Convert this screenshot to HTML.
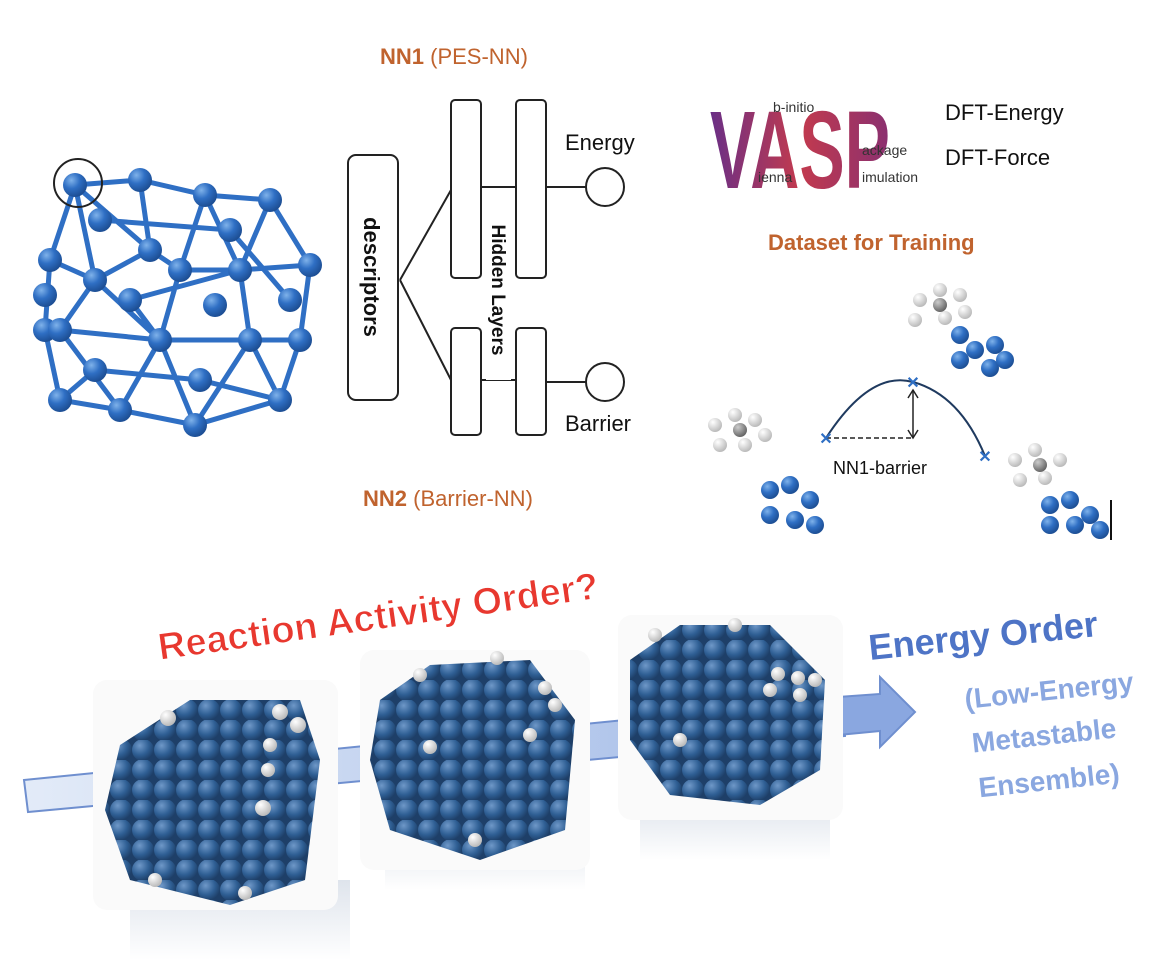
<!DOCTYPE html>
<html><head><meta charset="utf-8"><style>
html,body{margin:0;padding:0;background:#fff}
svg{display:block}
text{font-family:"Liberation Sans",sans-serif}
</style></head><body>
<svg width="1154" height="978" viewBox="0 0 1154 978" xmlns="http://www.w3.org/2000/svg">
<defs>
<radialGradient id="bs" cx="35%" cy="30%" r="70%"><stop offset="0" stop-color="#7fb2ea"/><stop offset="0.5" stop-color="#2f6fc4"/><stop offset="1" stop-color="#1d4f95"/></radialGradient>
<radialGradient id="np" cx="35%" cy="30%" r="70%"><stop offset="0" stop-color="#6f98c8"/><stop offset="0.6" stop-color="#2f5f94"/><stop offset="1" stop-color="#1e3f68"/></radialGradient>
<radialGradient id="wh" cx="35%" cy="30%" r="70%"><stop offset="0" stop-color="#fff"/><stop offset="1" stop-color="#bbb"/></radialGradient>
<radialGradient id="gr" cx="35%" cy="30%" r="70%"><stop offset="0" stop-color="#ccc"/><stop offset="1" stop-color="#666"/></radialGradient>
<pattern id="pat" width="22" height="20" patternUnits="userSpaceOnUse"><rect width="22" height="20" fill="#1e3f68"/><circle cx="11" cy="10" r="11" fill="url(#np)"/></pattern>
<linearGradient id="band" x1="0" y1="0" x2="1" y2="0"><stop offset="0" stop-color="#e3ebf8"/><stop offset="1" stop-color="#9fb8e6"/></linearGradient>
<linearGradient id="vasp" x1="0" y1="0" x2="1" y2="0"><stop offset="0" stop-color="#6a2f86"/><stop offset="0.5" stop-color="#c23a4e"/><stop offset="1" stop-color="#8a3070"/></linearGradient>
<linearGradient id="refl" x1="0" y1="0" x2="0" y2="1"><stop offset="0" stop-color="#d6dde7"/><stop offset="1" stop-color="#fff"/></linearGradient>
</defs>

<!-- left cluster -->
<g stroke="#2f6fc4" stroke-width="5" fill="none">
<path d="M75 185 L140 180 L205 195 L270 200 L310 265 L300 340 L280 400 L195 425 L120 410 L60 400 L45 330 L50 260 Z"/>
<path d="M75 185 L95 280 L60 330 L120 410 M140 180 L150 250 L95 280 M205 195 L180 270 L150 250 M270 200 L240 270 L180 270 M310 265 L240 270 L250 340 L300 340 M180 270 L160 340 L95 280 M160 340 L250 340 L195 425 L160 340 L120 410 M60 330 L160 340 M95 280 L50 260 M240 270 L205 195 M150 250 L75 185 M250 340 L280 400 M160 340 L130 300 L240 270 M60 400 L95 370 L200 380 L280 400 M100 220 L230 230 L290 300"/>
</g>
<g fill="url(#bs)">
<circle cx="75" cy="185" r="12"/><circle cx="140" cy="180" r="12"/><circle cx="205" cy="195" r="12"/><circle cx="270" cy="200" r="12"/><circle cx="310" cy="265" r="12"/><circle cx="300" cy="340" r="12"/><circle cx="280" cy="400" r="12"/><circle cx="195" cy="425" r="12"/><circle cx="120" cy="410" r="12"/><circle cx="60" cy="400" r="12"/><circle cx="45" cy="330" r="12"/><circle cx="50" cy="260" r="12"/><circle cx="95" cy="280" r="12"/><circle cx="150" cy="250" r="12"/><circle cx="180" cy="270" r="12"/><circle cx="240" cy="270" r="12"/><circle cx="250" cy="340" r="12"/><circle cx="160" cy="340" r="12"/><circle cx="60" cy="330" r="12"/><circle cx="130" cy="300" r="12"/><circle cx="95" cy="370" r="12"/><circle cx="200" cy="380" r="12"/><circle cx="100" cy="220" r="12"/><circle cx="230" cy="230" r="12"/><circle cx="290" cy="300" r="12"/><circle cx="45" cy="295" r="12"/><circle cx="215" cy="305" r="12"/>
</g>
<circle cx="78" cy="183" r="24" fill="none" stroke="#222" stroke-width="2"/>

<!-- NN -->
<text x="380" y="64" font-size="22" fill="#c0632e"><tspan font-weight="bold">NN1</tspan> (PES-NN)</text>
<text x="363" y="506" font-size="22" fill="#c0632e"><tspan font-weight="bold">NN2</tspan> (Barrier-NN)</text>
<g fill="none" stroke="#222" stroke-width="2">
<rect x="348" y="155" width="50" height="245" rx="8"/>
<rect x="451" y="100" width="30" height="178" rx="4"/><rect x="516" y="100" width="30" height="178" rx="4"/>
<rect x="451" y="328" width="30" height="107" rx="4"/><rect x="516" y="328" width="30" height="107" rx="4"/>
<path d="M400 280 L451 190 M400 280 L451 380 M481 187 L516 187 M481 380 L516 380 M546 187 L586 187 M546 382 L586 382"/>
<circle cx="605" cy="187" r="19"/><circle cx="605" cy="382" r="19"/>
</g>
<text transform="translate(364 277) rotate(90)" font-size="22" font-weight="bold" text-anchor="middle" fill="#111">descriptors</text>
<rect x="486" y="200" width="25" height="180" fill="#fff"/>
<text transform="translate(492 290) rotate(90)" font-size="19" font-weight="bold" text-anchor="middle" fill="#111">Hidden Layers</text>
<text x="565" y="150" font-size="22" fill="#111">Energy</text>
<text x="565" y="431" font-size="22" fill="#111">Barrier</text>

<!-- VASP -->
<text x="710" y="188" font-size="110" font-weight="bold" fill="url(#vasp)" font-family="Liberation Serif" textLength="180" lengthAdjust="spacingAndGlyphs">VASP</text>
<text x="773" y="112" font-size="14" fill="#333" font-family="Liberation Serif">b-initio</text>
<text x="862" y="155" font-size="14" fill="#333" font-family="Liberation Serif">ackage</text>
<text x="862" y="182" font-size="14" fill="#333" font-family="Liberation Serif">imulation</text>
<text x="758" y="182" font-size="14" fill="#333" font-family="Liberation Serif">ienna</text>
<text x="945" y="120" font-size="22" fill="#111">DFT-Energy</text>
<text x="945" y="165" font-size="22" fill="#111">DFT-Force</text>
<text x="768" y="250" font-size="22" font-weight="bold" fill="#c0632e">Dataset for Training</text>

<!-- reaction diagram -->
<path d="M826 438 Q870 370 913 382 Q960 395 985 456" fill="none" stroke="#1f3a5f" stroke-width="2"/>
<path d="M826 438 L913 438" stroke="#222" stroke-width="1.5" stroke-dasharray="5 3"/>
<path d="M913 390 L913 438" stroke="#222" stroke-width="1.5"/>
<path d="M908 398 L913 390 L918 398 M908 430 L913 438 L918 430" fill="none" stroke="#222" stroke-width="1.5"/>
<g font-size="16" fill="#2f6fc4" font-weight="bold" text-anchor="middle"><text x="826" y="444">✕</text><text x="913" y="388">✕</text><text x="985" y="462">✕</text></g>
<text x="833" y="474" font-size="18" fill="#111">NN1-barrier</text>
<g fill="url(#bs)"><circle cx="960" cy="335" r="9"/><circle cx="975" cy="350" r="9"/><circle cx="995" cy="345" r="9"/><circle cx="960" cy="360" r="9"/><circle cx="990" cy="368" r="9"/><circle cx="1005" cy="360" r="9"/>
<circle cx="770" cy="490" r="9"/><circle cx="790" cy="485" r="9"/><circle cx="810" cy="500" r="9"/><circle cx="770" cy="515" r="9"/><circle cx="795" cy="520" r="9"/><circle cx="815" cy="525" r="9"/>
<circle cx="1050" cy="505" r="9"/><circle cx="1070" cy="500" r="9"/><circle cx="1090" cy="515" r="9"/><circle cx="1050" cy="525" r="9"/><circle cx="1075" cy="525" r="9"/><circle cx="1100" cy="530" r="9"/></g>
<g fill="url(#wh)"><circle cx="920" cy="300" r="7"/><circle cx="940" cy="290" r="7"/><circle cx="960" cy="295" r="7"/><circle cx="915" cy="320" r="7"/><circle cx="945" cy="318" r="7"/><circle cx="965" cy="312" r="7"/>
<circle cx="715" cy="425" r="7"/><circle cx="735" cy="415" r="7"/><circle cx="755" cy="420" r="7"/><circle cx="720" cy="445" r="7"/><circle cx="745" cy="445" r="7"/><circle cx="765" cy="435" r="7"/>
<circle cx="1015" cy="460" r="7"/><circle cx="1035" cy="450" r="7"/><circle cx="1060" cy="460" r="7"/><circle cx="1020" cy="480" r="7"/><circle cx="1045" cy="478" r="7"/></g>
<g fill="url(#gr)"><circle cx="940" cy="305" r="7"/><circle cx="740" cy="430" r="7"/><circle cx="1040" cy="465" r="7"/></g>
<path d="M1111 500 L1111 540" stroke="#111" stroke-width="2"/>

<!-- bottom band -->
<path d="M24 780 L845 698 L845 736 L28 812 Z" fill="url(#band)" stroke="#6f8fcf" stroke-width="2"/>
<path d="M838 697 L880 694 L880 677 L915 712 L880 747 L880 731 L838 735 Z" fill="#8aa7e0" stroke="#6f8fcf" stroke-width="2"/>

<!-- reflections -->
<rect x="130" y="880" width="220" height="80" fill="url(#refl)" opacity="0.8"/>
<rect x="385" y="830" width="200" height="60" fill="url(#refl)" opacity="0.8"/>
<rect x="640" y="800" width="190" height="60" fill="url(#refl)" opacity="0.8"/>

<!-- nanoparticles -->
<rect x="93" y="680" width="245" height="230" rx="14" fill="#fafafa"/>
<rect x="360" y="650" width="230" height="220" rx="14" fill="#fafafa"/>
<rect x="618" y="615" width="225" height="205" rx="14" fill="#fafafa"/>
<path d="M120 745 L190 700 L300 700 L320 760 L305 880 L230 905 L130 880 L105 810 Z" fill="url(#pat)"/>
<path d="M380 700 L430 665 L530 660 L575 720 L565 830 L480 860 L390 830 L370 760 Z" fill="url(#pat)"/>
<path d="M630 660 L680 625 L770 625 L825 680 L820 770 L760 805 L670 795 L630 740 Z" fill="url(#pat)"/>
<g fill="url(#wh)"><circle cx="168" cy="718" r="8"/><circle cx="280" cy="712" r="8"/><circle cx="298" cy="725" r="8"/><circle cx="270" cy="745" r="7"/><circle cx="268" cy="770" r="7"/><circle cx="263" cy="808" r="8"/><circle cx="155" cy="880" r="7"/><circle cx="245" cy="893" r="7"/>
<circle cx="420" cy="675" r="7"/><circle cx="497" cy="658" r="7"/><circle cx="545" cy="688" r="7"/><circle cx="555" cy="705" r="7"/><circle cx="530" cy="735" r="7"/><circle cx="430" cy="747" r="7"/><circle cx="475" cy="840" r="7"/>
<circle cx="655" cy="635" r="7"/><circle cx="735" cy="625" r="7"/><circle cx="778" cy="674" r="7"/><circle cx="798" cy="678" r="7"/><circle cx="815" cy="680" r="7"/><circle cx="800" cy="695" r="7"/><circle cx="680" cy="740" r="7"/><circle cx="770" cy="690" r="7"/></g>

<!-- labels -->
<text transform="translate(160 660) rotate(-8)" font-size="38" font-weight="bold" fill="#e8382f" stroke="#fff" stroke-width="1">Reaction Activity Order?</text>
<text transform="translate(870 660) rotate(-6)" font-size="36" font-weight="bold" fill="#4e74c6">Energy Order</text>
<g font-size="28" font-weight="bold" fill="#8aa7e0" text-anchor="middle">
<text transform="translate(1050 700) rotate(-6)">(Low-Energy</text>
<text transform="translate(1045 745) rotate(-6)">Metastable</text>
<text transform="translate(1050 790) rotate(-6)">Ensemble)</text>
</g>
</svg>
</body></html>
